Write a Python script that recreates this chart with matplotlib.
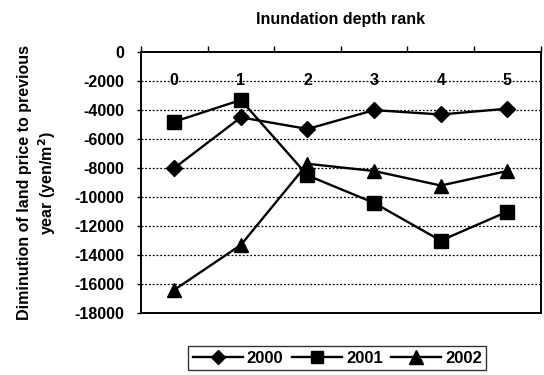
import numpy as np
import matplotlib
matplotlib.use('Agg')
import matplotlib.pyplot as plt

plt.rcParams['font.family'] = ['Liberation Sans', 'DejaVu Sans']
plt.rcParams['font.weight'] = 'bold'
plt.rcParams['axes.unicode_minus'] = False

###############################################################################
## Data
###############################################################################
ranks = ['0', '1', '2', '3', '4', '5']

y2000 = [-8000, -4500, -5300, -4000, -4300, -3900]
y2001 = [-4800, -3300, -8500, -10400, -13000, -11000]
y2002 = [-16400, -13300, -7700, -8200, -9200, -8200]

yticks = list(range(0, -18001, -2000))

###############################################################################
## Fig setup
###############################################################################
fig = plt.figure(figsize=(5.44, 3.75), dpi=100)
fig.patch.set_facecolor('white')

ax = fig.add_axes([0.259, 0.165, 0.735, 0.696])

x = np.arange(len(ranks))

ax.plot(x, y2000, c='k', lw=1.7, marker='D', ms=8, label='2000')
ax.plot(x, y2001, c='k', lw=1.7, marker='s', ms=9.5, label='2001')
ax.plot(x, y2002, c='k', lw=1.7, marker='^', ms=10.5, label='2002')

ax.set_xlim(-0.5, len(ranks) - 0.5)
ax.set_ylim(-18000, 0)

# gridlines
for yv in yticks[1:-1]:
   ax.axhline(yv, c='k', lw=0.9, ls=(0, (1.5, 1.5)), zorder=0)

ax.set_yticks(yticks)
ax.set_yticklabels([f'{v}' for v in yticks], fontsize=11.5, fontweight='bold')
ax.tick_params(axis='y', which='major', direction='out', length=3, width=1, pad=9)

# category labels inside the plot, tick marks on top between categories
ax.xaxis.tick_top()
ax.set_xticks(x)
ax.set_xticklabels(ranks, fontsize=11.5, fontweight='bold')
ax.set_xticks(np.arange(-0.5, len(ranks)), minor=True)
ax.tick_params(axis='x', which='major', top=True, bottom=False, length=0, pad=-26)
ax.tick_params(axis='x', which='minor', top=True, bottom=False, length=4, width=1,
   direction='out')

for sp in ax.spines.values():
   sp.set_linewidth(1.4)

ax.set_title('Inundation depth rank', fontsize=11.5, fontweight='bold', pad=20)
ax.set_ylabel('Diminution of land price to previous\nyear (yen/m$^2$)', fontsize=11.5,
   fontweight='bold', labelpad=12, linespacing=1.25)

fig.legend(loc='center', bbox_to_anchor=(0.62, 0.045), ncol=3, fontsize=12,
   frameon=True, fancybox=False, edgecolor='k', handlelength=3.0,
   columnspacing=0.5, handletextpad=0.25, borderpad=0.25, markerscale=0.9)

fig.savefig('out.png', dpi=100)
